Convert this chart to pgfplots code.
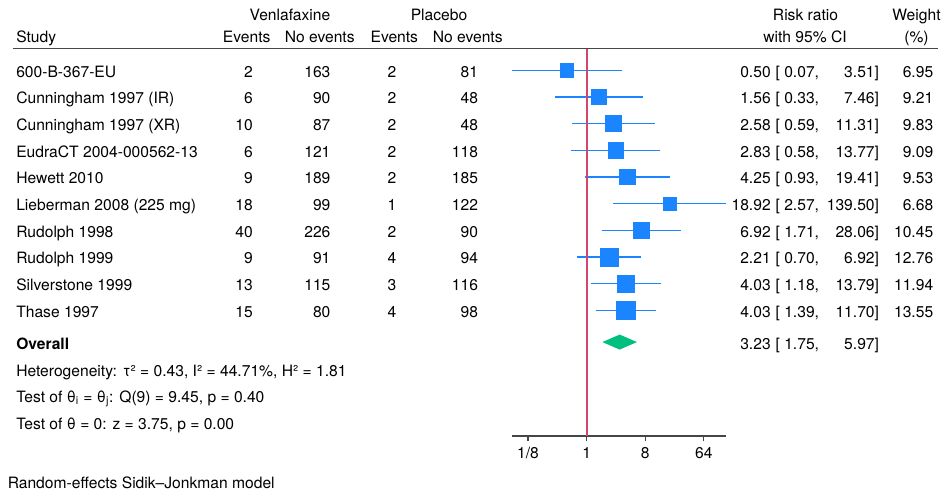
\documentclass[border=0pt]{standalone}
\usepackage{pgfplots}
\pgfplotsset{compat=1.18}
\usepackage{pgfplotstable}
\usepackage{fontspec}
\setmainfont{TeX Gyre Heros}

\definecolor{stcblue}{RGB}{26,133,255}
\definecolor{stcred}{RGB}{212,70,110}
\definecolor{stcgreen}{RGB}{0,191,127}
\definecolor{rulegray}{RGB}{70,70,70}

% study-level risk ratios, 95% CI and weights (%)
\pgfplotstableread{
row rr lo hi w
1 0.50 0.07 3.51 6.95
2 1.56 0.33 7.46 9.21
3 2.58 0.59 11.31 9.83
4 2.83 0.58 13.77 9.09
5 4.25 0.93 19.41 9.53
6 18.92 2.57 139.50 6.68
7 6.92 1.71 28.06 10.45
8 2.21 0.70 6.92 12.76
9 4.03 1.18 13.79 11.94
10 4.03 1.39 11.70 13.55
}\studies

% confidence-interval segments, one per study (nan breaks the line)
\pgfplotstableread{
x y
0.07 1
3.51 1
nan nan
0.33 2
7.46 2
nan nan
0.59 3
11.31 3
nan nan
0.58 4
13.77 4
nan nan
0.93 5
19.41 5
nan nan
2.57 6
139.50 6
nan nan
1.71 7
28.06 7
nan nan
0.70 8
6.92 8
nan nan
1.18 9
13.79 9
nan nan
1.39 10
11.70 10
}\cis

\begin{document}
\fontsize{10}{12}\selectfont
\begin{tikzpicture}
% text layout in a 945 x 492 grid, y running downwards
\begin{scope}[x=0.64pt, y=-0.64pt, every node/.style={inner sep=0pt, font=\fontsize{10}{12}\selectfont}]
\path[use as bounding box] (0,0) rectangle (945,492);
% column headers
\node[anchor=base] at (290,20.5) {Venlafaxine};
\node[anchor=base] at (439,20.5) {Placebo};
\node[anchor=base] at (805.5,20.5) {Risk ratio};
\node[anchor=base] at (916.5,20.5) {Weight};
\node[anchor=base west] at (16,42.5) {Study};
\node[anchor=base] at (246.7,42.5) {Events};
\node[anchor=base] at (319.7,42.5) {No events};
\node[anchor=base] at (394.3,42.5) {Events};
\node[anchor=base] at (467.7,42.5) {No events};
\node[anchor=base] at (805,42.5) {with 95\% CI};
\node[anchor=base] at (916.5,42.5) {(\%)};
\draw[rulegray, line width=0.8pt] (13,48.3) -- (938,48.3);

% one line per study
\foreach \i/\name/\ve/\vn/\pe/\pn/\rr/\lo/\hi/\w in {
  1/600-B-367-EU/2/163/2/81/0.50/0.07/3.51/6.95,
  2/Cunningham 1997 (IR)/6/90/2/48/1.56/0.33/7.46/9.21,
  3/Cunningham 1997 (XR)/10/87/2/48/2.58/0.59/11.31/9.83,
  4/EudraCT 2004-000562-13/6/121/2/118/2.83/0.58/13.77/9.09,
  5/Hewett 2010/9/189/2/185/4.25/0.93/19.41/9.53,
  6/Lieberman 2008 (225 mg)/18/99/1/122/18.92/2.57/139.50/6.68,
  7/Rudolph 1998/40/226/2/90/6.92/1.71/28.06/10.45,
  8/Rudolph 1999/9/91/4/94/2.21/0.70/6.92/12.76,
  9/Silverstone 1999/13/115/3/116/4.03/1.18/13.79/11.94,
  10/Thase 1997/15/80/4/98/4.03/1.39/11.70/13.55}{
  \pgfmathsetmacro\yb{70.3+26.67*(\i-1)+7}
  \node[anchor=base west] at (16,\yb) {\name};
  \node[anchor=base east] at (253,\yb) {\ve};
  \node[anchor=base east] at (330.7,\yb) {\vn};
  \node[anchor=base east] at (396.7,\yb) {\pe};
  \node[anchor=base east] at (478.3,\yb) {\pn};
  \node[anchor=base east] at (771,\yb) {\rr};
  \node[anchor=base west] at (775.3,\yb) {[ \lo,};
  \node[anchor=base east] at (879.3,\yb) {\hi]};
  \node[anchor=base east] at (933.5,\yb) {\w};
}

% pooled estimate and test statistics
\node[anchor=base west] at (16,349.3) {\bfseries Overall};
\node[anchor=base east] at (771,349.5) {3.23};
\node[anchor=base west] at (775.3,349.5) {[ 1.75,};
\node[anchor=base east] at (879.3,349.5) {5.97]};
\node[anchor=base west] at (16,376) {Heterogeneity: τ² = 0.43, I² = 44.71\%, H² = 1.81};
\node[anchor=base west] at (16,402.5) {Test of θ\textsubscript{i} = θ\textsubscript{j}: Q(9) = 9.45, p = 0.40};
\node[anchor=base west] at (16,429) {Test of θ = 0: z = 3.75, p = 0.00};
\node[anchor=base west] at (7.5,488) {Random-effects Sidik–Jonkman model};
\end{scope}

% forest panel: lower-left corner at grid point (511.7, 436)
\begin{axis}[
  at={(327.49pt,-279.04pt)}, anchor=south west,
  scale only axis, width=136.96pt, height=247.68pt,
  xmode=log, log basis x=2,
  xmin=0.07, xmax=139.5,
  ymin=-14.712, ymax=-0.2013,
  axis x line*=bottom, axis y line=none,
  x axis line style={-, rulegray, line width=0.7pt},
  xtick={0.125,1,8,64}, xticklabels={1/8,1,8,64},
  minor xtick={}, ytick=\empty,
  tick align=outside, major tick length=3.4pt,
  xtick style={rulegray, line width=0.7pt},
  xticklabel style={font=\fontsize{10}{12}\selectfont, anchor=base, inner sep=0pt, yshift=-11pt},
  clip=false,
]
% confidence intervals
\addplot[stcblue, line width=0.85pt, no marks, unbounded coords=jump] table[x=x, y expr=-\thisrow{y}] {\cis};
% line of no effect
\addplot[stcred, line width=1.3pt, no marks] coordinates {(1,-0.2013) (1,-14.712)};
% study estimates, square area proportional to weight
\addplot[only marks, mark=square*, scatter,
  scatter/use mapped color={draw=stcblue, fill=stcblue},
  visualization depends on={1.6*sqrt(\thisrow{w}) \as \msize},
  scatter/@pre marker code/.append style={/tikz/mark size=\msize}]
  table[x=rr, y expr=-\thisrow{row}] {\studies};
% overall estimate
\addplot[draw=none, fill=stcgreen] coordinates {(1.75,-11.19) (3.23,-10.909) (5.97,-11.19) (3.23,-11.471)} --cycle;
\end{axis}
\end{tikzpicture}
\end{document}
